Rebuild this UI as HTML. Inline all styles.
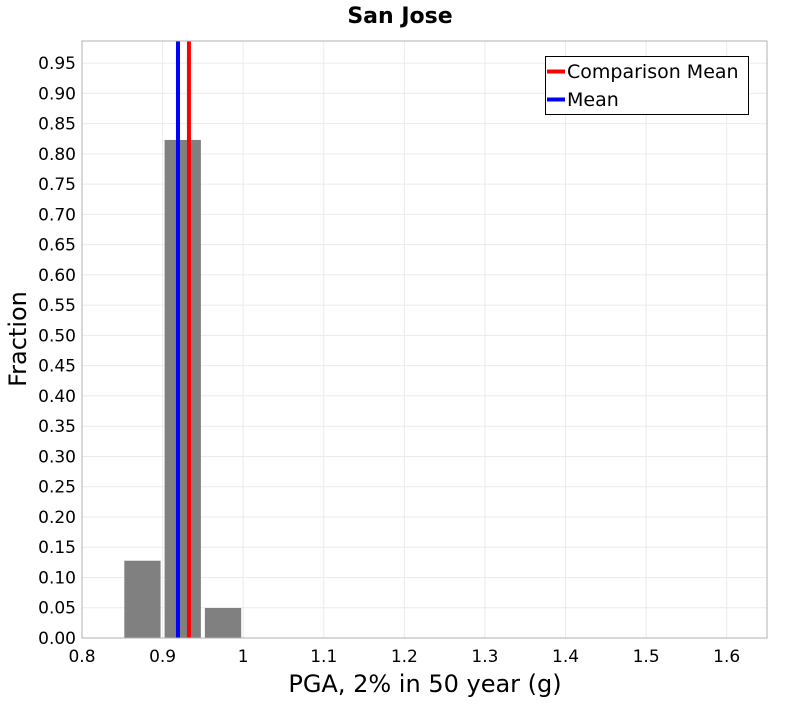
<!DOCTYPE html>
<html><head><meta charset="utf-8"><style>
html,body{margin:0;padding:0;background:#fff;}
svg text{font-family:"DejaVu Sans","Liberation Sans",sans-serif;}
</style></head><body>
<svg id="chart" width="800" height="700" xmlns="http://www.w3.org/2000/svg"></svg>
<script>
const binStarts=[0.85,0.90,0.95];
const binWidth=0.05;
const fractions=[0.1277,0.823,0.0496];
const meanValue=0.9191;
const comparisonMean=0.9327;
const xTicks=[0.8,0.9,1.0,1.1,1.2,1.3,1.4,1.5,1.6];
const xTickLabels=["0.8","0.9","1","1.1","1.2","1.3","1.4","1.5","1.6"];
const yTicks=[0,0.05,0.1,0.15,0.2,0.25,0.3,0.35,0.4,0.45,0.5,0.55,0.6,0.65,0.7,0.75,0.8,0.85,0.9,0.95];

const L=82,R=767,T=41,B=638;
const xMin=0.8,xMax=1.65,yMin=0,yMax=0.9865;
const X=v=>L+(v-xMin)/(xMax-xMin)*(R-L);
const Y=v=>B-(v-yMin)/(yMax-yMin)*(B-T);
const svg=document.getElementById('chart');
const NS='http://www.w3.org/2000/svg';
function mk(tag,attrs,parent){const e=document.createElementNS(NS,tag);for(const k in attrs)e.setAttribute(k,attrs[k]);(parent||svg).appendChild(e);return e;}

const title=mk('text',{x:400,y:23,'text-anchor':'middle','font-size':22,'font-weight':'bold',fill:'#000'});
title.textContent='San Jose';



const plot=mk('rect',{x:L,y:T,width:R-L,height:B-T,fill:'#fff'});



yTicks.forEach((t,i)=>{
  const g=mk('line',{x1:L,x2:R,y1:Y(t),y2:Y(t),stroke:'#ebebeb','stroke-width':1});
  
  
  const lb=mk('text',{x:L-6,y:Y(t)+6,'text-anchor':'end','font-size':17,fill:'#000'});
  lb.textContent=t.toFixed(2);
  
  
});
xTicks.forEach((t,i)=>{
  const g=mk('line',{x1:X(t),x2:X(t),y1:T,y2:B,stroke:'#ebebeb','stroke-width':1});
  
  
  const lb=mk('text',{x:X(t),y:B+24,'text-anchor':'middle','font-size':17,fill:'#000'});
  lb.textContent=xTickLabels[i];
  
  
});

binStarts.forEach((s,i)=>{
  const x0=X(s)+2,x1=X(s+binWidth)-2;
  const r=mk('rect',{x:x0,y:Y(fractions[i]),width:x1-x0,height:Y(0)-Y(fractions[i]),fill:'#808080'});
  
  
});

const ml=mk('line',{x1:X(meanValue),x2:X(meanValue),y1:T,y2:B,stroke:'#0000ff','stroke-width':4});


const cl=mk('line',{x1:X(comparisonMean),x2:X(comparisonMean),y1:T,y2:B,stroke:'#ff0000','stroke-width':4});



const frame=mk('rect',{x:L,y:T,width:R-L,height:B-T,fill:'none',stroke:'#b0b0b0','stroke-width':1});



const xt=mk('text',{x:425,y:692,'text-anchor':'middle','font-size':24,fill:'#000'});
xt.textContent='PGA, 2% in 50 year (g)';


const yt=mk('text',{x:0,y:0,'text-anchor':'middle','font-size':24,fill:'#000',transform:'translate(26,339) rotate(-90)'});
yt.textContent='Fraction';



const lg=mk('g',{});


mk('rect',{x:545.5,y:56.5,width:203,height:58,fill:'#fff',stroke:'#000','stroke-width':1},lg);
const e1=mk('line',{x1:547,x2:565,y1:71.5,y2:71.5,stroke:'#ff0000','stroke-width':4},lg);


const t1=mk('text',{x:567,y:78,'font-size':19,fill:'#000'},lg);
t1.textContent='Comparison Mean';


const e2=mk('line',{x1:547,x2:565,y1:99.5,y2:99.5,stroke:'#0000ff','stroke-width':4},lg);


const t2=mk('text',{x:567,y:106,'font-size':19,fill:'#000'},lg);
t2.textContent='Mean';


</script>
</body></html>
